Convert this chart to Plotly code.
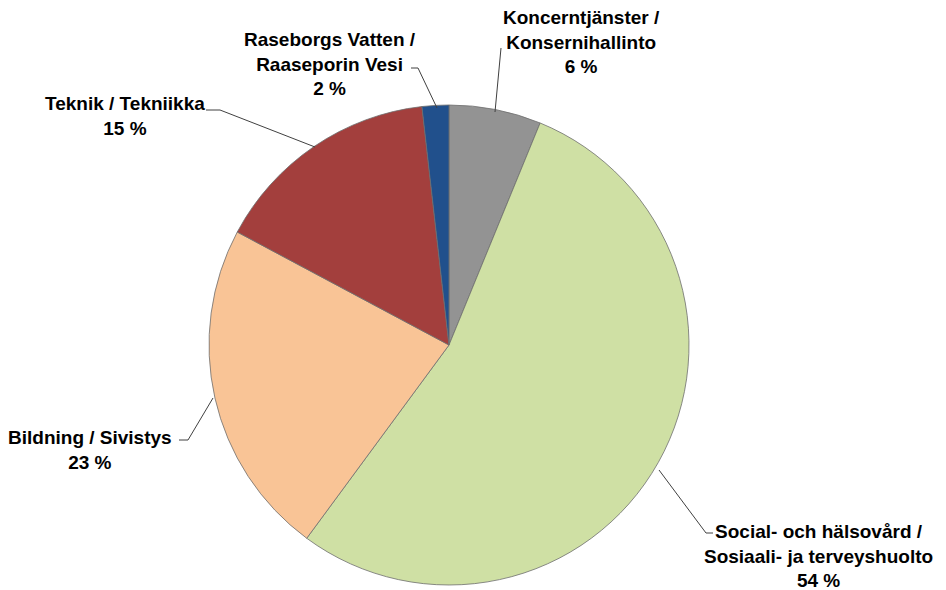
import plotly.graph_objects as go

labels = ["Koncerntjänster / Konsernihallinto",
          "Social- och hälsovård / Sosiaali- ja terveyshuolto",
          "Bildning / Sivistys",
          "Teknik / Tekniikka",
          "Raseborgs Vatten / Raaseporin Vesi"]
values = [6.2, 53.9, 22.7, 15.4, 1.8]
colors = ["#939393", "#CFE0A4", "#F9C496", "#A33F3D", "#21508C"]
label_texts = ["Koncerntjänster /<br>Konsernihallinto<br>6 %",
               "Social- och hälsovård /<br>Sosiaali- ja terveyshuolto<br>54 %",
               "Bildning / Sivistys<br>23 %",
               "Teknik / Tekniikka<br>15 %",
               "Raseborgs Vatten /<br>Raaseporin Vesi<br>2 %"]

W, H = 946, 590
OFF = 8  # page body margin offset
# label centres (px) and leader line polylines (px), in screenshot pixels
label_pos = [(581, 42), (818, 556), (90, 450), (125, 116), (330, 64)]
leaders = [[(495, 112), (501, 48)],
           [(659, 470), (706, 533), (713, 533)],
           [(213, 398), (188, 440), (179, 440)],
           [(315, 147), (220, 110), (206, 110)],
           [(437, 108), (418, 68), (411, 68)]]


def px2x(x):
    return (x - OFF) / W


def px2y(y):
    return 1 - (y - OFF) / H


fig = go.Figure(go.Pie(
    labels=labels, values=values, sort=False, direction="clockwise", rotation=0,
    marker=dict(colors=colors, line=dict(color="#6E6E6E", width=0.8)),
    textinfo="none", hoverinfo="label+percent",
    domain=dict(x=[px2x(209), px2x(689)], y=[px2y(585), px2y(105)]),
    showlegend=False,
))

for txt, (px, py) in zip(label_texts, label_pos):
    fig.add_annotation(x=px2x(px), y=px2y(py), xref="paper", yref="paper",
                       text="<b>" + txt + "</b>", showarrow=False,
                       xanchor="center", yanchor="middle", align="center",
                       font=dict(family="Liberation Sans, Arial", size=19, color="#000000"))

for pts in leaders:
    path = "M " + " L ".join(f"{px2x(x)},{px2y(y)}" for x, y in pts)
    fig.add_shape(type="path", path=path, xref="paper", yref="paper",
                  line=dict(color="#404040", width=1))

fig.update_layout(width=W, height=H, margin=dict(l=0, r=0, t=0, b=0),
                  paper_bgcolor="white", plot_bgcolor="white")

fig.write_html("out.html")
